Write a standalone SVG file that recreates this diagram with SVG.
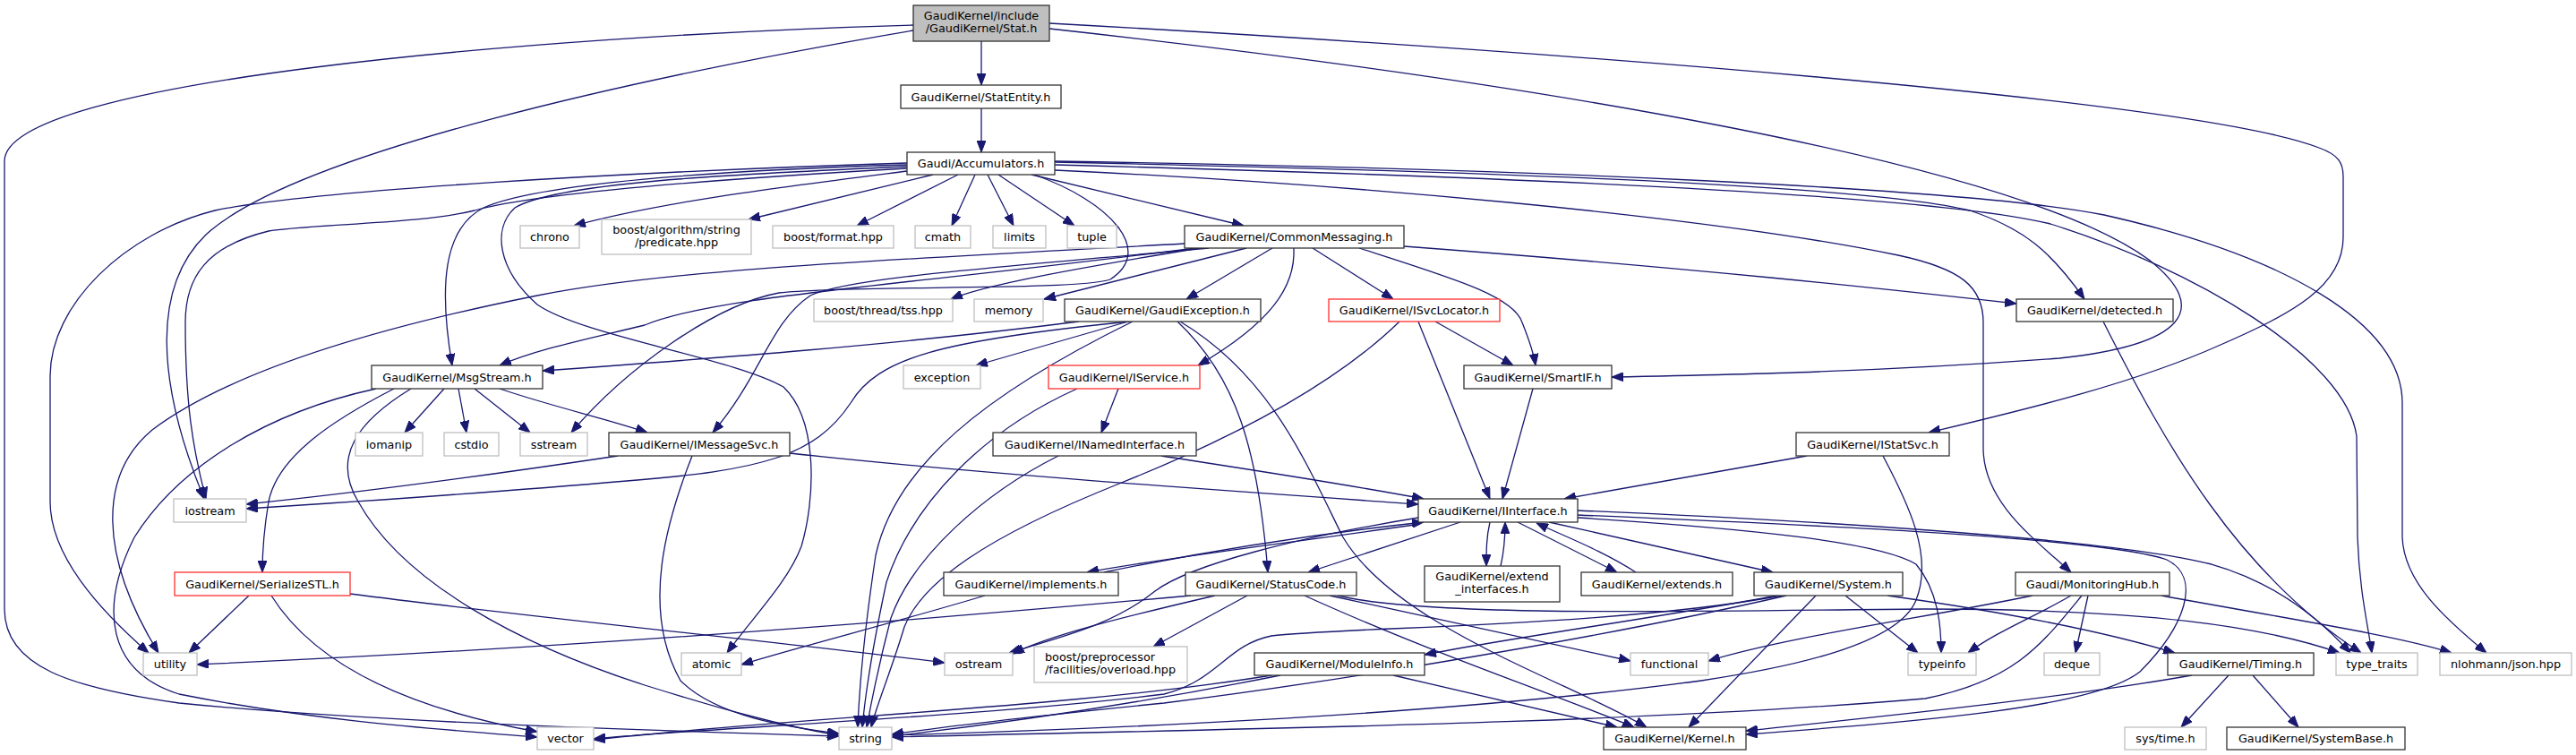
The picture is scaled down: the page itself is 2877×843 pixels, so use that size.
<svg xmlns="http://www.w3.org/2000/svg" width="2877" height="843" viewBox="0 0 2877 843">
<style>
.n rect{fill:#fff;stroke:#333;stroke-width:1.3}
.g rect{stroke:#bfbfbf}
.r rect{stroke:#ff3030}
.s rect{fill:#bfbfbf}
text{font-family:"DejaVu Sans",sans-serif;font-size:12.8px;text-anchor:middle;fill:#000}
.e path{fill:none;stroke:#191970;stroke-width:1.3;marker-end:url(#a)}
</style>
<defs>
<marker id="a" viewBox="0 0 13 10" refX="13" refY="5" markerWidth="13" markerHeight="10" markerUnits="userSpaceOnUse" orient="auto">
<path d="M0,0 L13,5 L0,10 z" fill="#191970" stroke="#191970" stroke-width="1"/>
</marker>
</defs>
<rect width="2877" height="843" fill="#fff"/>
<g id="edges" class="e">
<path d="M1096,46 L1096,95"/>
<path d="M1096,121 L1096,170"/>
<path d="M1020,34 C720,85 330,170 230,262 C172,318 172,420 228,557"/>
<path d="M1020,28 C600,40 5,90 5,180 L5,680 C5,745 80,768 200,785 C400,805 700,815 937,822"/>
<path d="M1172,32 C1700,90 2250,180 2400,290 C2470,345 2440,385 2300,400 C2100,415 1950,418 1800,421"/>
<path d="M1172,26 C1700,55 2450,110 2590,165 C2612,173 2617,182 2617,197 L2617,265 C2617,320 2560,350 2480,385 C2380,430 2250,460 2154,483"/>
<path d="M1013,191 C880,208 740,225 641,252"/>
<path d="M1042,195 L836,245"/>
<path d="M1070,195 L957,252"/>
<path d="M1089,195 L1063,252"/>
<path d="M1103,195 L1132,252"/>
<path d="M1115,195 L1200,252"/>
<path d="M1152,195 L1389,252"/>
<path d="M1155,195 C1240,225 1290,280 1240,312 C1200,325 950,318 870,327 C800,340 700,410 638,483"/>
<path d="M1013,184 C800,190 600,205 540,232 C495,255 490,320 505,408"/>
<path d="M1013,182 C700,192 350,212 240,235 C140,260 56,340 56,420 L56,560 C56,620 110,680 166,729"/>
<path d="M1013,186 C800,195 620,205 575,232 C550,255 555,300 600,340 C650,375 820,400 875,432 C915,470 910,560 895,610 C880,650 840,690 812,729"/>
<path d="M1013,188 C800,200 600,215 530,235 C470,250 350,250 300,258 C230,275 207,310 207,360 C207,450 215,500 230,557"/>
<path d="M1178,181 C1600,190 2080,205 2200,235 C2260,255 2290,280 2328,334"/>
<path d="M1178,184 C1600,195 2150,215 2290,250 C2450,300 2620,400 2632,487 L2633,600 C2635,660 2645,700 2649,729"/>
<path d="M1178,180 C1700,188 2200,210 2350,240 C2550,285 2683,360 2683,450 L2683,600 C2685,650 2730,690 2777,729"/>
<path d="M1178,190 C1500,205 1900,240 2120,285 C2190,300 2215,320 2215,360 L2215,500 C2215,560 2270,600 2313,639"/>
<path d="M1340,277 C1200,300 1100,318 1062,334"/>
<path d="M1392,277 L1166,334"/>
<path d="M1421,277 L1325,334"/>
<path d="M1466,277 L1556,334"/>
<path d="M1518,277 C1620,310 1690,330 1700,360 C1708,380 1713,395 1715,408"/>
<path d="M1568,275 C1900,300 2100,322 2252,339"/>
<path d="M1445,277 C1447,320 1420,360 1338,408"/>
<path d="M1335,277 C1000,320 800,330 720,363 C650,380 600,390 558,408"/>
<path d="M1323,272 C1000,290 750,300 600,330 C400,370 250,420 170,480 C110,530 110,620 177,729"/>
<path d="M1350,277 C1100,300 950,310 905,330 C860,360 850,420 796,483"/>
<path d="M1205,359 C1000,385 800,400 606,414"/>
<path d="M1260,359 L1090,408"/>
<path d="M1262,359 C1050,380 980,400 950,450 C910,510 850,525 700,537 C550,550 400,560 275,568"/>
<path d="M1265,359 C1100,440 1000,520 978,620 C966,700 960,760 958,812"/>
<path d="M1315,359 C1380,420 1405,500 1416,639"/>
<path d="M1318,359 C1420,420 1460,520 1500,600 C1560,700 1750,760 1839,812"/>
<path d="M1563,359 C1480,440 1350,500 1250,540 C1100,600 1030,650 1010,700 C995,750 978,790 973,812"/>
<path d="M1584,359 L1664,557"/>
<path d="M1603,359 L1690,408"/>
<path d="M1712,434 L1678,557"/>
<path d="M1249,434 L1230,483"/>
<path d="M1203,434 C1100,480 1020,560 990,650 C975,720 966,780 963,812"/>
<path d="M1297,509 C1400,525 1500,540 1590,557"/>
<path d="M1182,509 C1100,550 1020,620 995,690 C982,740 972,790 968,812"/>
<path d="M690,509 C550,530 400,550 275,563"/>
<path d="M773,509 C745,580 715,680 760,760 C800,800 880,812 937,819"/>
<path d="M882,506 C1100,530 1400,550 1584,563"/>
<path d="M496,434 L452,483"/>
<path d="M512,434 L521,483"/>
<path d="M530,434 L592,483"/>
<path d="M558,434 C620,455 680,468 723,483"/>
<path d="M420,434 C300,460 200,520 150,600 C110,680 120,750 200,775 C350,805 500,815 600,823"/>
<path d="M440,434 C370,470 310,510 300,560 C295,590 293,615 293,639"/>
<path d="M459,434 C400,470 370,510 400,560 C450,650 580,720 720,765 C800,790 870,810 937,821"/>
<path d="M278,665 L211,729"/>
<path d="M303,665 C350,740 450,790 600,817"/>
<path d="M391,663 C600,690 900,720 1055,740"/>
<path d="M1233,639 C1350,615 1480,595 1590,583"/>
<path d="M1586,585 C1450,605 1320,620 1214,639"/>
<path d="M1100,665 C1000,695 900,720 828,742"/>
<path d="M1584,578 C1450,600 1330,630 1290,660 C1240,700 1180,712 1127,729"/>
<path d="M1631,583 L1461,639"/>
<path d="M1664,583 C1660,600 1660,615 1660,632"/>
<path d="M1676,632 C1680,615 1681,600 1681,583"/>
<path d="M1695,583 L1806,639"/>
<path d="M1827,639 C1790,615 1750,600 1716,584"/>
<path d="M1730,583 L1980,639"/>
<path d="M1762,570 C2000,580 2350,600 2470,630 C2540,650 2590,690 2625,729"/>
<path d="M1762,575 C2000,585 2350,600 2420,625 C2460,645 2440,700 2390,750 C2340,790 2150,805 1950,820"/>
<path d="M1762,578 C1950,590 2100,605 2140,630 C2165,660 2168,700 2168,729"/>
<path d="M1330,665 C1000,695 600,725 220,742"/>
<path d="M1357,665 C1250,690 1170,710 1131,730"/>
<path d="M1393,665 L1288,722"/>
<path d="M1457,665 C1600,730 1750,780 1825,812"/>
<path d="M1485,665 C1600,690 1720,715 1821,738"/>
<path d="M1494,665 C1600,690 1900,682 2150,680 C2400,680 2530,700 2613,729"/>
<path d="M1985,665 C1850,690 1700,710 1591,731"/>
<path d="M1995,665 C1800,710 1500,760 1300,785 C1150,800 1050,812 996,820"/>
<path d="M1990,665 C1800,700 1500,700 1420,710 C1370,720 1360,760 1300,775 C1100,800 800,812 663,825"/>
<path d="M2028,665 L1886,812"/>
<path d="M2061,665 L2142,729"/>
<path d="M2108,665 C2250,685 2350,705 2429,729"/>
<path d="M1420,754 C1200,790 900,800 663,826"/>
<path d="M1430,754 C1250,790 1100,810 996,822"/>
<path d="M1556,754 L1806,812"/>
<path d="M2270,665 C2150,690 2000,710 1908,738"/>
<path d="M2313,665 C2270,690 2230,705 2198,729"/>
<path d="M2325,665 C2280,720 2250,760 2150,780 C1800,810 1300,815 996,823"/>
<path d="M2332,665 L2318,729"/>
<path d="M2414,665 C2550,690 2680,710 2738,729"/>
<path d="M2018,509 L1747,557"/>
<path d="M2103,509 C2130,560 2160,620 2140,670 C2120,720 2000,745 1900,760 C1600,800 1200,815 996,821"/>
<path d="M2448,754 C2300,780 2100,800 1950,816"/>
<path d="M2489,754 L2436,812"/>
<path d="M2516,754 L2567,812"/>
<path d="M2349,359 C2420,500 2500,640 2637,729"/>
</g>
<g id="stat" class="n s"><rect x="1020" y="6" width="152" height="40"/><text x="1096" y="21.5">GaudiKernel/include</text><text x="1096" y="36">/GaudiKernel/Stat.h</text></g>
<g id="statentity" class="n"><rect x="1006" y="95" width="179" height="26"/><text x="1095.5" y="112.5">GaudiKernel/StatEntity.h</text></g>
<g id="accumulators" class="n"><rect x="1013" y="170" width="165" height="25"/><text x="1095.5" y="187">Gaudi/Accumulators.h</text></g>
<g id="chrono" class="n g"><rect x="581" y="252" width="66" height="25"/><text x="614" y="269">chrono</text></g>
<g id="boostalg" class="n g"><rect x="672" y="245" width="167" height="39"/><text x="755.5" y="260.5">boost/algorithm/string</text><text x="755.5" y="275">/predicate.hpp</text></g>
<g id="boostformat" class="n g"><rect x="863" y="252" width="135" height="25"/><text x="930.5" y="269">boost/format.hpp</text></g>
<g id="cmath" class="n g"><rect x="1022" y="252" width="62" height="25"/><text x="1053" y="269">cmath</text></g>
<g id="limits" class="n g"><rect x="1109" y="252" width="59" height="25"/><text x="1138.5" y="269">limits</text></g>
<g id="tuple" class="n g"><rect x="1192" y="252" width="55" height="25"/><text x="1219.5" y="269">tuple</text></g>
<g id="commonmessaging" class="n"><rect x="1323" y="252" width="245" height="25"/><text x="1445.5" y="269">GaudiKernel/CommonMessaging.h</text></g>
<g id="tss" class="n g"><rect x="909" y="334" width="155" height="25"/><text x="986.5" y="351">boost/thread/tss.hpp</text></g>
<g id="memory" class="n g"><rect x="1088" y="334" width="77" height="25"/><text x="1126.5" y="351">memory</text></g>
<g id="gaudiexception" class="n"><rect x="1189" y="334" width="219" height="25"/><text x="1298.5" y="351">GaudiKernel/GaudiException.h</text></g>
<g id="isvclocator" class="n r"><rect x="1484" y="334" width="191" height="25"/><text x="1579.5" y="351">GaudiKernel/ISvcLocator.h</text></g>
<g id="detected" class="n"><rect x="2252" y="334" width="175" height="25"/><text x="2339.5" y="351">GaudiKernel/detected.h</text></g>
<g id="msgstream" class="n"><rect x="415" y="408" width="191" height="26"/><text x="510.5" y="425.5">GaudiKernel/MsgStream.h</text></g>
<g id="exception" class="n g"><rect x="1009" y="408" width="86" height="26"/><text x="1052" y="425.5">exception</text></g>
<g id="iservice" class="n r"><rect x="1171" y="408" width="169" height="26"/><text x="1255.5" y="425.5">GaudiKernel/IService.h</text></g>
<g id="smartif" class="n"><rect x="1635" y="408" width="165" height="26"/><text x="1717.5" y="425.5">GaudiKernel/SmartIF.h</text></g>
<g id="iomanip" class="n g"><rect x="397" y="483" width="75" height="26"/><text x="434.5" y="500.5">iomanip</text></g>
<g id="cstdio" class="n g"><rect x="496" y="483" width="61" height="26"/><text x="526.5" y="500.5">cstdio</text></g>
<g id="sstream" class="n g"><rect x="581" y="483" width="75" height="26"/><text x="618.5" y="500.5">sstream</text></g>
<g id="imessagesvc" class="n"><rect x="680" y="483" width="202" height="26"/><text x="781" y="500.5">GaudiKernel/IMessageSvc.h</text></g>
<g id="inamedinterface" class="n"><rect x="1109" y="483" width="227" height="26"/><text x="1222.5" y="500.5">GaudiKernel/INamedInterface.h</text></g>
<g id="istatsvc" class="n"><rect x="2006" y="483" width="171" height="26"/><text x="2091.5" y="500.5">GaudiKernel/IStatSvc.h</text></g>
<g id="iostream" class="n g"><rect x="194" y="557" width="81" height="26"/><text x="234.5" y="574.5">iostream</text></g>
<g id="iinterface" class="n"><rect x="1584" y="557" width="178" height="26"/><text x="1673" y="574.5">GaudiKernel/IInterface.h</text></g>
<g id="serializestl" class="n r"><rect x="195" y="639" width="196" height="26"/><text x="293" y="656.5">GaudiKernel/SerializeSTL.h</text></g>
<g id="implements" class="n"><rect x="1054" y="639" width="195" height="26"/><text x="1151.5" y="656.5">GaudiKernel/implements.h</text></g>
<g id="statuscode" class="n"><rect x="1324" y="639" width="191" height="26"/><text x="1419.5" y="656.5">GaudiKernel/StatusCode.h</text></g>
<g id="extendinterfaces" class="n"><rect x="1591" y="632" width="151" height="40"/><text x="1666.5" y="647.5">GaudiKernel/extend</text><text x="1666.5" y="662">_interfaces.h</text></g>
<g id="extends" class="n"><rect x="1766" y="639" width="169" height="26"/><text x="1850.5" y="656.5">GaudiKernel/extends.h</text></g>
<g id="system" class="n"><rect x="1959" y="639" width="166" height="26"/><text x="2042" y="656.5">GaudiKernel/System.h</text></g>
<g id="monitoringhub" class="n"><rect x="2251" y="639" width="172" height="26"/><text x="2337" y="656.5">Gaudi/MonitoringHub.h</text></g>
<g id="utility" class="n g"><rect x="160" y="729" width="60" height="25"/><text x="190" y="746">utility</text></g>
<g id="atomic" class="n g"><rect x="761" y="729" width="67" height="25"/><text x="794.5" y="746">atomic</text></g>
<g id="ostream" class="n g"><rect x="1055" y="729" width="76" height="25"/><text x="1093" y="746">ostream</text></g>
<g id="boostpp" class="n g"><rect x="1155" y="722" width="171" height="40"/><text x="1167" y="737.5" style="text-anchor:start">boost/preprocessor</text><text x="1167" y="752" style="text-anchor:start">/facilities/overload.hpp</text></g>
<g id="moduleinfo" class="n"><rect x="1401" y="729" width="190" height="25"/><text x="1496" y="746">GaudiKernel/ModuleInfo.h</text></g>
<g id="functional" class="n g"><rect x="1821" y="729" width="87" height="25"/><text x="1864.5" y="746">functional</text></g>
<g id="typeinfo" class="n g"><rect x="2131" y="729" width="76" height="25"/><text x="2169" y="746">typeinfo</text></g>
<g id="deque" class="n g"><rect x="2283" y="729" width="62" height="25"/><text x="2314" y="746">deque</text></g>
<g id="timing" class="n"><rect x="2421" y="729" width="163" height="25"/><text x="2502.5" y="746">GaudiKernel/Timing.h</text></g>
<g id="typetraits" class="n g"><rect x="2609" y="729" width="91" height="25"/><text x="2654.5" y="746">type_traits</text></g>
<g id="json" class="n g"><rect x="2725" y="729" width="147" height="25"/><text x="2798.5" y="746">nlohmann/json.hpp</text></g>
<g id="vector" class="n g"><rect x="600" y="812" width="63" height="25"/><text x="631.5" y="829">vector</text></g>
<g id="string" class="n g"><rect x="937" y="812" width="59" height="25"/><text x="966.5" y="829">string</text></g>
<g id="kernel" class="n"><rect x="1791" y="812" width="159" height="25"/><text x="1870.5" y="829">GaudiKernel/Kernel.h</text></g>
<g id="systime" class="n g"><rect x="2373" y="812" width="91" height="25"/><text x="2418.5" y="829">sys/time.h</text></g>
<g id="systembase" class="n"><rect x="2487" y="812" width="199" height="25"/><text x="2586.5" y="829">GaudiKernel/SystemBase.h</text></g>
</svg>
